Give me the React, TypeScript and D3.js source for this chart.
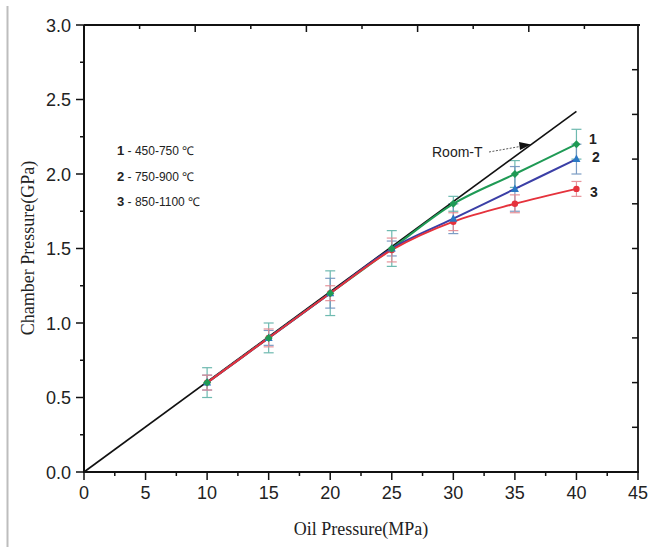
import React from "react";
import * as d3 from "d3";

const oilPressure = [10, 15, 20, 25, 30, 35, 40];
const series1 = [0.6, 0.9, 1.2, 1.5, 1.8, 2.0, 2.2];
const series2 = [0.6, 0.9, 1.2, 1.5, 1.7, 1.9, 2.1];
const series3 = [0.6, 0.9, 1.2, 1.49, 1.68, 1.8, 1.9];
const err1 = [0.1, 0.1, 0.15, 0.12, 0.05, 0.09, 0.1];
const err2 = [0.05, 0.05, 0.1, 0.05, 0.1, 0.15, 0.1];
const err3 = [0.05, 0.06, 0.05, 0.08, 0.06, 0.06, 0.05];
const roomX = [0, 40];
const roomY = [0, 2.42];
const xTicks = [0, 5, 10, 15, 20, 25, 30, 35, 40, 45];
const yTicks = [0, 0.5, 1.0, 1.5, 2.0, 2.5, 3.0];
const legendIds = ["1", "2", "3"];
const legendRanges = ["450-750 ℃", "750-900 ℃", "850-1100 ℃"];

const W = 651;
const H = 547;
const L = 84, R = 638, T = 25, B = 472;

export default function App() {
  const x = d3.scaleLinear().domain([0, 45]).range([L, R]);
  const y = d3.scaleLinear().domain([0, 3]).range([B, T]);
  const xTop = d3.scaleLinear().domain([0, 50]).range([L, 640]);
  const yRight = d3.scaleLinear().domain([0, 10]).range([B, T]);

  const line = d3
    .line<[number, number]>()
    .x((d) => x(d[0]))
    .y((d) => y(d[1]))
    .curve(d3.curveCatmullRom.alpha(0.5));
  const straight = d3
    .line<[number, number]>()
    .x((d) => x(d[0]))
    .y((d) => y(d[1]));

  const series = [
    { vals: series1, err: err1, line: "#1f9a55", marker: "#1f9a55", errC: "#5fb3a8", shape: "diamond" },
    { vals: series2, err: err2, line: "#3b3fa6", marker: "#2a78c4", errC: "#6f93bf", shape: "tri" },
    { vals: series3, err: err3, line: "#e5323c", marker: "#e5323c", errC: "#e58890", shape: "circle" },
  ];
  const markerOrder = [2, 1, 0];

  const xMinor = d3.range(0, 45.01, 2.5);
  const yMinor = d3.range(0, 3.01, 0.25);
  const topTicks = d3.range(5, 50, 5);
  const rightTicks = d3.range(1, 10, 1);

  return (
    <div style={{ position: "absolute", left: 0, top: 0 }}>
      <svg width={W} height={H} style={{ display: "block", background: "#fff" }}>
        <rect x={0} y={0} width={W} height={H} fill="#fff" />
        <line x1={7.5} x2={7.5} y1={6} y2={H} stroke="#bdbdbd" strokeWidth={2} />

        {/* error bars */}
        {series.map((s, si) =>
          oilPressure.map((p, i) => {
            const cx = x(p);
            const y0 = y(s.vals[i] - s.err[i]);
            const y1 = y(s.vals[i] + s.err[i]);
            return (
              <g key={`e${si}-${i}`} stroke={s.errC} strokeWidth={1.2} opacity={0.9}>
                <line x1={cx} x2={cx} y1={y0} y2={y1} />
                <line x1={cx - 5} x2={cx + 5} y1={y0} y2={y0} />
                <line x1={cx - 5} x2={cx + 5} y1={y1} y2={y1} />
              </g>
            );
          })
        )}

        {/* Room-T line */}
        <path
          d={straight(roomX.map((v, i) => [v, roomY[i]] as [number, number])) || ""}
          fill="none"
          stroke="#111"
          strokeWidth={1.6}
        />

        {/* series lines */}
        {series.map((s, si) => (
          <path
            key={`l${si}`}
            d={line(oilPressure.map((p, i) => [p, s.vals[i]] as [number, number])) || ""}
            fill="none"
            stroke={s.line}
            strokeWidth={2}
          />
        ))}

        {/* markers */}
        {markerOrder.map((si) => {
          const s = series[si];
          return oilPressure.map((p, i) => {
            const cx = x(p);
            const cy = y(s.vals[i]);
            if (s.shape === "circle")
              return <circle key={`m${si}-${i}`} cx={cx} cy={cy} r={3.2} fill={s.marker} />;
            if (s.shape === "tri")
              return (
                <path
                  key={`m${si}-${i}`}
                  d={`M${cx},${cy - 4.5}L${cx + 4},${cy + 3}L${cx - 4},${cy + 3}Z`}
                  fill={s.marker}
                />
              );
            return (
              <path
                key={`m${si}-${i}`}
                d={`M${cx},${cy - 4}L${cx + 4},${cy}L${cx},${cy + 4}L${cx - 4},${cy}Z`}
                fill={s.marker}
              />
            );
          });
        })}

        {/* Room-T annotation */}
        <text x={432} y={157} fontFamily="Liberation Sans, Arial, sans-serif" fontSize={14} fill="#222">
          Room-T
        </text>
        <line x1={489} y1={152} x2={520} y2={146.5} stroke="#444" strokeWidth={0.9} strokeDasharray="2,1.5" />
        <path d="M531,144.5 L519,142 L520,150 Z" fill="#111" />

        {/* end labels */}
        <g fontFamily="Liberation Sans, Arial, sans-serif" fontSize={14} fontWeight="bold" fill="#222">
          <text x={589} y={144}>1</text>
          <text x={592} y={162}>2</text>
          <text x={590} y={197}>3</text>
        </g>

        {/* legend */}
        <g fontFamily="Liberation Sans, Arial, sans-serif" fill="#222">
          {legendIds.map((id, i) => (
            <text key={id} x={117} y={155 + i * 25.5} fontSize={12}>
              <tspan fontWeight="bold" fontSize={13}>{id}</tspan>
              <tspan> - </tspan>
              <tspan>{legendRanges[i]}</tspan>
            </text>
          ))}
        </g>

        {/* frame */}
        <line x1={L} x2={640} y1={T} y2={T} stroke="#111" strokeWidth={1.8} />
        <line x1={R} x2={R} y1={T} y2={B} stroke="#111" strokeWidth={1.8} />
        <line x1={L} x2={L} y1={T} y2={B + 1} stroke="#111" strokeWidth={2} />
        <line x1={L - 1} x2={R + 1} y1={B} y2={B} stroke="#111" strokeWidth={2} />

        {/* top ticks */}
        {topTicks.map((t) => (
          <line key={`tt${t}`} x1={xTop(t)} x2={xTop(t)} y1={T} y2={T + (t % 10 === 0 ? 7 : 4)} stroke="#111" strokeWidth={1.5} />
        ))}
        {/* right ticks */}
        {rightTicks.map((t) => (
          <line key={`rt${t}`} x1={R} x2={R - 6} y1={yRight(t)} y2={yRight(t)} stroke="#111" strokeWidth={1.5} />
        ))}

        {/* bottom axis */}
        {xMinor.map((t) => (
          <line key={`xm${t}`} x1={x(t)} x2={x(t)} y1={B} y2={B + (t % 5 === 0 ? 8 : 4)} stroke="#111" strokeWidth={1.5} />
        ))}
        {xTicks.map((t) => (
          <text
            key={`xl${t}`}
            x={x(t)}
            y={499}
            textAnchor="middle"
            fontFamily="Liberation Sans, Arial, sans-serif"
            fontSize={18}
            fill="#222"
          >
            {t}
          </text>
        ))}

        {/* left axis */}
        {yMinor.map((t) => (
          <line
            key={`ym${t}`}
            x1={L}
            x2={L - (Math.abs(t * 2 - Math.round(t * 2)) < 1e-6 ? 8 : 4)}
            y1={y(t)}
            y2={y(t)}
            stroke="#111"
            strokeWidth={1.5}
          />
        ))}
        {yTicks.map((t) => (
          <text
            key={`yl${t}`}
            x={71}
            y={y(t) + 6.5}
            textAnchor="end"
            fontFamily="Liberation Sans, Arial, sans-serif"
            fontSize={18}
            fill="#222"
          >
            {t.toFixed(1)}
          </text>
        ))}

        {/* axis titles */}
        <text
          x={361}
          y={535}
          textAnchor="middle"
          fontFamily="Liberation Serif, Times New Roman, serif"
          fontSize={18}
          fill="#222"
        >
          Oil Pressure(MPa)
        </text>
        <text
          transform="translate(34,248) rotate(-90)"
          textAnchor="middle"
          fontFamily="Liberation Serif, Times New Roman, serif"
          fontSize={18}
          fill="#222"
        >
          Chamber Pressure(GPa)
        </text>
      </svg>
    </div>
  );
}
